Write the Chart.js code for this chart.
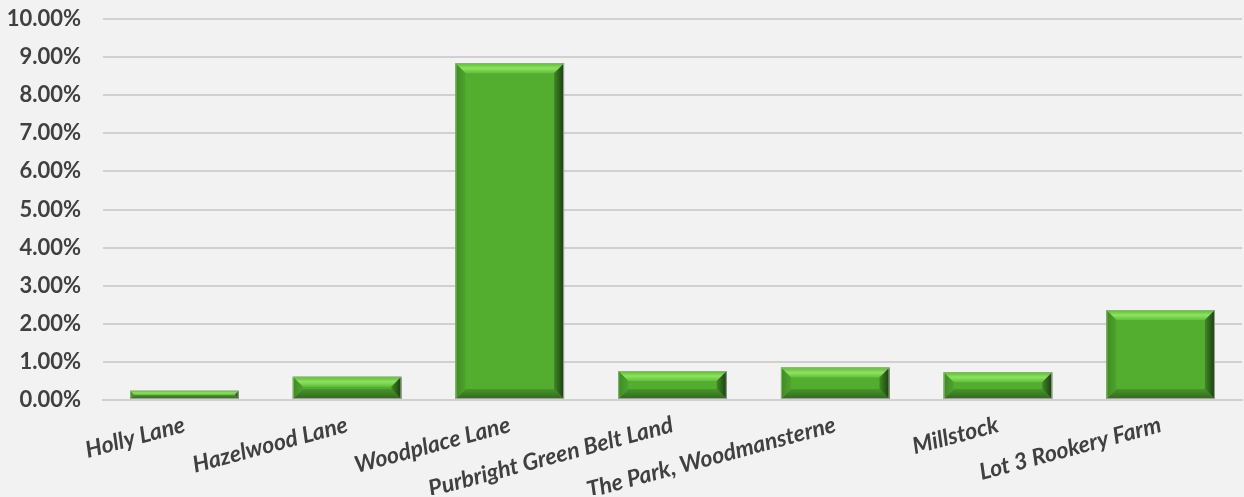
<!DOCTYPE html>
<html><head><meta charset="utf-8">
<script src="https://cdn.jsdelivr.net/npm/chart.js@4/dist/chart.umd.min.js"></script>
<style>html,body{margin:0;padding:0;background:#f2f2f2;}#wrap{width:1244px;height:497px;}</style>
</head><body><div id="wrap"><canvas id="c" width="1244" height="497"></canvas></div>
<script>
const categories = ["Holly Lane","Hazelwood Lane","Woodplace Lane","Purbright Green Belt Land","The Park, Woodmansterne","Millstock","Lot 3 Rookery Farm"];
const values = [0.24, 0.61, 8.84, 0.76, 0.85, 0.73, 2.36];
const yTicks = [0,1,2,3,4,5,6,7,8,9,10];

const bevel = {
  id:'bevel',
  afterDatasetsDraw(chart){
    const ctx = chart.ctx;
    chart.getDatasetMeta(0).data.forEach(el=>{
      const l = el.x - el.width/2, r = el.x + el.width/2, t = el.y, b = el.base;
      const h = b - t;
      const d = Math.min(10, h/2);
      ctx.save();
      let g = ctx.createLinearGradient(0,t,0,t+d);
      g.addColorStop(0,'#5cb83a'); g.addColorStop(0.5,'#8ee35e'); g.addColorStop(1,'#62bf3c');
      ctx.fillStyle = g;
      ctx.beginPath(); ctx.moveTo(l,t); ctx.lineTo(r,t); ctx.lineTo(r-d,t+d); ctx.lineTo(l+d,t+d); ctx.closePath(); ctx.fill();
      g = ctx.createLinearGradient(0,b-d,0,b);
      g.addColorStop(0,'#47962a'); g.addColorStop(1,'#2f6a1b');
      ctx.fillStyle = g;
      ctx.beginPath(); ctx.moveTo(l,b); ctx.lineTo(r,b); ctx.lineTo(r-d,b-d); ctx.lineTo(l+d,b-d); ctx.closePath(); ctx.fill();
      g = ctx.createLinearGradient(l,0,l+d,0);
      g.addColorStop(0,'#3f8a24'); g.addColorStop(1,'#4ea32e');
      ctx.fillStyle = g;
      ctx.beginPath(); ctx.moveTo(l,t); ctx.lineTo(l+d,t+d); ctx.lineTo(l+d,b-d); ctx.lineTo(l,b); ctx.closePath(); ctx.fill();
      g = ctx.createLinearGradient(r-d,0,r,0);
      g.addColorStop(0,'#3e8a22'); g.addColorStop(1,'#173d0c');
      ctx.fillStyle = g;
      ctx.beginPath(); ctx.moveTo(r,t); ctx.lineTo(r-d,t+d); ctx.lineTo(r-d,b-d); ctx.lineTo(r,b); ctx.closePath(); ctx.fill();
      ctx.strokeStyle = '#9aa890'; ctx.lineWidth = 1;
      ctx.strokeRect(l+0.5,t+0.5,r-l-1,b-t-1);
      ctx.restore();
    });
  }
};

new Chart(document.getElementById('c'), {
  type:'bar',
  data:{labels:categories, datasets:[{data:values, backgroundColor:'#53ae2f', borderWidth:0, categoryPercentage:1, barPercentage:0.667}]},
  options:{
    responsive:false, animation:false,
    layout:{padding:{top:19,right:2,left:0,bottom:2}},
    plugins:{legend:{display:false}, tooltip:{enabled:false}},
    scales:{
      y:{min:0,max:10,afterBuildTicks(ax){ax.ticks = yTicks.map(v=>({value:v}));},
        afterFit(ax){ax.width = 103; ax.paddingTop = 0; ax.paddingBottom = 0;},
        ticks:{callback:v=>v.toFixed(2)+'%', color:'#404040', font:{family:'Lato', size:22, weight:'bold'}, padding:22},
        grid:{color:'#d0d0d0', lineWidth:2, drawTicks:false}, border:{display:false}},
      x:{grid:{display:false}, border:{color:'#d0d0d0', width:2},
        afterFit(ax){ax.height = 95; ax.paddingLeft = 0; ax.paddingRight = 0;},
        ticks:{minRotation:15, maxRotation:15, color:'#404040', font:{family:'Lato', size:23, weight:'bold', style:'italic'}, padding:3}}
    }
  },
  plugins:[bevel]
});
</script></body></html>
